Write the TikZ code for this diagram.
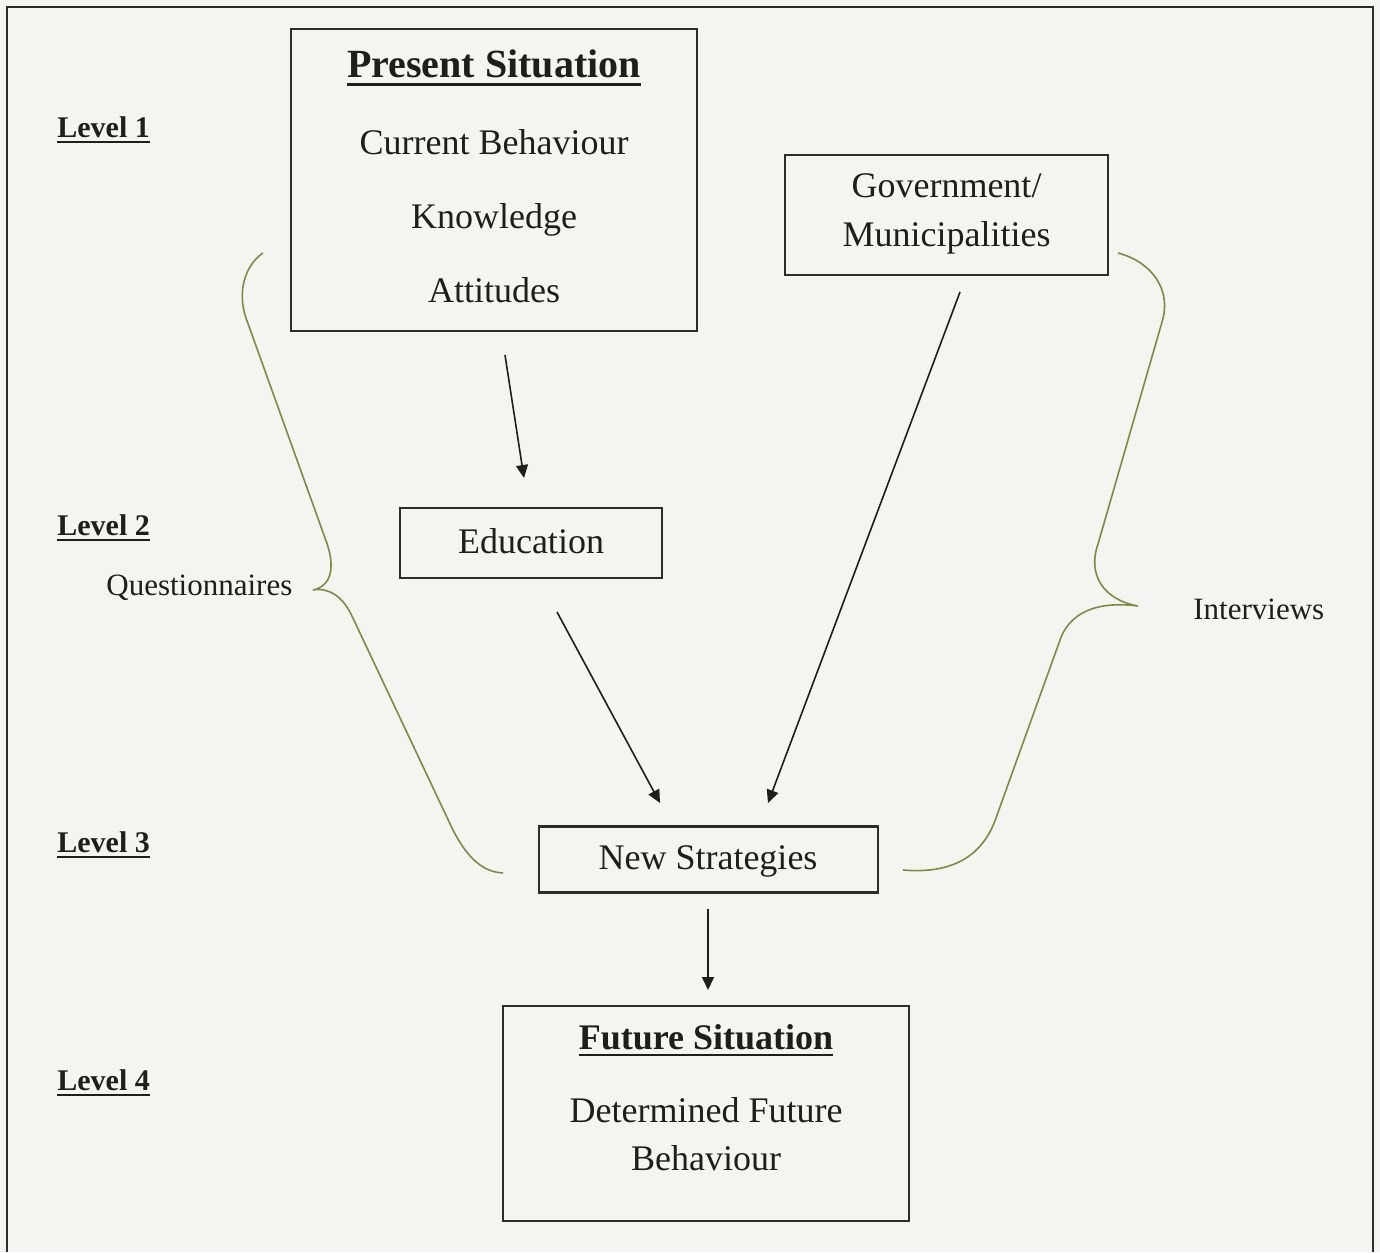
\documentclass[tikz,border=0pt]{standalone}
\usepackage{fontspec}
\setmainfont{Liberation Serif}
\usetikzlibrary{arrows.meta}

\definecolor{paper}{RGB}{244,244,240}
\definecolor{ink}{RGB}{30,30,26}
\definecolor{boxline}{RGB}{45,45,40}
\definecolor{bracecol}{RGB}{125,140,65}

% heavy underline for headings
\newcommand\heavyul[1]{\setbox0=\hbox{#1}\rlap{\rule[-0.2em]{\wd0}{0.075em}}\box0}

\begin{document}
\begin{tikzpicture}[x=0.5pt,y=-0.5pt,
  box/.style={draw=boxline,line width=1.2pt,inner sep=0pt},
  body/.style={text=ink,inner sep=0pt,anchor=base,font=\fontsize{18}{22}\selectfont},
  heading/.style={body,font=\fontsize{#1}{24}\selectfont\bfseries},
  levelname/.style={text=ink,inner sep=0pt,anchor=base west,font=\fontsize{15}{18}\selectfont\bfseries},
  method/.style={text=ink,inner sep=0pt,anchor=base west,font=\fontsize{15.5}{18}\selectfont},
  flow/.style={draw=ink,line width=0.8pt,-{Triangle[length=6.5pt,width=6pt]}},
  bracket/.style={draw=bracecol,line width=0.8pt},
  frame/.style={draw=boxline,line width=1.4pt}]

% page
\path[use as bounding box,fill=paper] (0,0) rectangle (1380,1252);
\draw[frame] (7,1252) -- (7,7) -- (1373,7) -- (1373,1252);

% boxes
\node[box,minimum width=203pt,minimum height=151pt] (present) at (494,180) {};
\node[box,minimum width=161.5pt,minimum height=60pt] (gov) at (946.5,215) {};
\node[box,minimum width=131pt,minimum height=35pt] (edu) at (531,543) {};
\node[box,minimum width=169.5pt,minimum height=33pt] (newstrat) at (708.5,859.5) {};
\node[box,minimum width=203pt,minimum height=107.5pt] (future) at (706,1113.5) {};

% box contents
\node[heading=20] (presenthead) at (494,78) {\heavyul{Present Situation}};
\node[body] (curbeh) at (494,155) {Current Behaviour};
\node[body] (knowledge) at (494,228) {Knowledge};
\node[body] (attitudes) at (494,302) {Attitudes};
\node[body] (govtxt) at (946.5,197) {Government/};
\node[body] (munitxt) at (946.5,246) {Municipalities};
\node[body] (edutxt) at (531,553) {Education};
\node[body] (newtxt) at (708,869) {New Strategies};
\node[heading=18] (futurehead) at (706,1049) {\heavyul{Future Situation}};
\node[body] (detfut) at (706,1122) {Determined Future};
\node[body] (detbeh) at (706,1170) {Behaviour};

% level labels
\node[levelname] (lv1) at (57,137) {\heavyul{Level 1}};
\node[levelname] (lv2) at (57,535) {\heavyul{Level 2}};
\node[levelname] (lv3) at (57,852) {\heavyul{Level 3}};
\node[levelname] (lv4) at (57,1090) {\heavyul{Level 4}};

% methods
\node[method] (quest) at (106,595) {Questionnaires};
\node[method] (interv) at (1193,619) {Interviews};

% arrow end points
\coordinate (a1s) at (505,355);
\coordinate (a1e) at (524,478);
\coordinate (a2s) at (557,612);
\coordinate (a2e) at (660,803);
\coordinate (a3s) at (960,292);
\coordinate (a3e) at (768,803);
\coordinate (a4s) at (708,909);
\coordinate (a4e) at (708,990);

\draw[flow] (a1s) -- (a1e);
\draw[flow] (a2s) -- (a2e);
\draw[flow] (a3s) -- (a3e);
\draw[flow] (a4s) -- (a4e);

% curly brackets
\coordinate (lbtop) at (263,253);
\coordinate (lbtip) at (313,590);
\coordinate (lbbot) at (503,873);
\draw[bracket] (lbtop) .. controls (245,265) and (237,292) .. (246,318)
  -- (325,538) .. controls (336,566) and (332,586) .. (lbtip)
  .. controls (330,587) and (343,598) .. (351,614)
  -- (452,828) .. controls (468,860) and (484,872) .. (lbbot);

\coordinate (rbtop) at (1118,253);
\coordinate (rbtip) at (1138,606);
\coordinate (rbbot) at (903,870);
\draw[bracket] (rbtop) .. controls (1152,262) and (1172,290) .. (1162,322)
  -- (1098,544) .. controls (1087,575) and (1104,600) .. (rbtip)
  .. controls (1108,602) and (1072,606) .. (1060,640)
  -- (996,818) .. controls (982,858) and (950,874) .. (rbbot);

\end{tikzpicture}
\end{document}
